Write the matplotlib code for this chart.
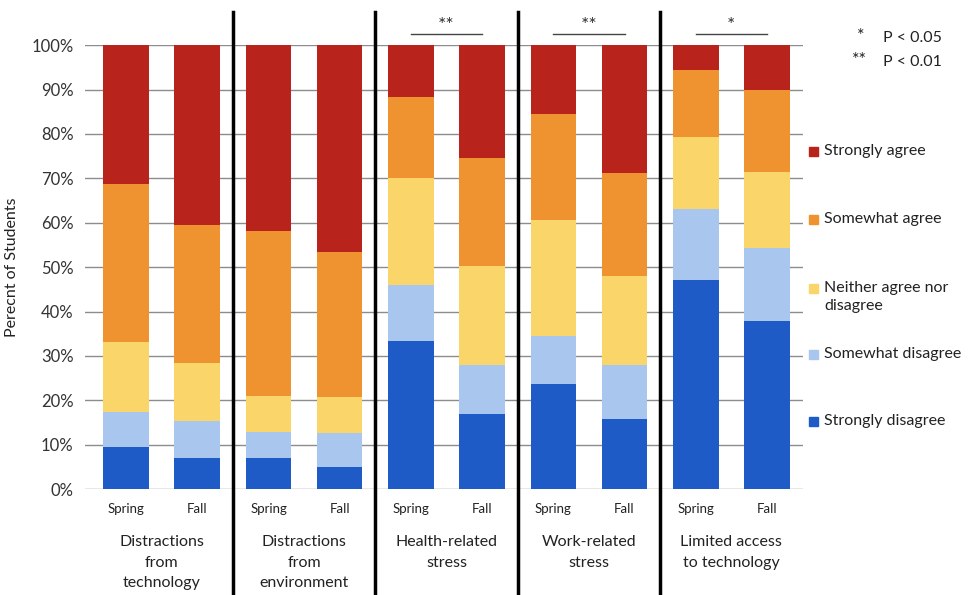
import matplotlib
matplotlib.use("Agg")
import matplotlib.pyplot as plt
from matplotlib.patches import Rectangle
import numpy as np

plt.rcParams["font.family"] = ["Lato", "DejaVu Sans"]

groups = ["Distractions\nfrom\ntechnology", "Distractions\nfrom\nenvironment",
          "Health-related\nstress", "Work-related\nstress", "Limited access\nto technology"]
terms = ["Spring", "Fall"]
responses = ["Strongly disagree", "Somewhat disagree", "Neither agree nor\ndisagree",
             "Somewhat agree", "Strongly agree"]
colors = ["#1F5BC6", "#A9C6EE", "#F9D56A", "#EF9331", "#B8231B"]

# percent of students per response, bars in order Spring/Fall for each group
strongly_disagree = [9.5, 6.9, 7.1, 4.9, 33.3, 17.0, 23.7, 15.8, 47.1, 37.8]
somewhat_disagree = [7.9, 8.5, 5.8, 7.8, 12.6, 11.0, 10.9, 12.2, 15.9, 16.5]
neither = [15.8, 12.9, 8.1, 8.1, 24.2, 22.2, 26.1, 20.1, 16.3, 17.1]
somewhat_agree = [35.5, 31.2, 37.1, 32.7, 18.2, 24.4, 23.9, 23.0, 15.1, 18.4]
strongly_agree = [31.3, 40.5, 41.9, 46.5, 11.7, 25.4, 15.4, 28.9, 5.6, 10.2]

significance = ["", "", "**", "**", "*"]

series = [strongly_disagree, somewhat_disagree, neither, somewhat_agree, strongly_agree]
x = np.arange(len(groups) * len(terms))

fig = plt.figure(figsize=(9.74, 5.95), dpi=100)
ax = fig.add_axes([0.087, 0.178, 0.737, 0.746])

bottom = np.zeros(len(x))
for vals, col in zip(series, colors):
    ax.bar(x, vals, width=0.64, bottom=bottom, color=col, zorder=2)
    bottom += np.array(vals)

ax.set_xlim(-0.58, 9.5)
ax.set_ylim(0, 100)
ax.set_yticks(np.arange(0, 101, 10))
ax.set_yticklabels([f"{v}%" for v in range(0, 101, 10)], fontsize=12, color="#333333")
ax.yaxis.grid(True, color="#8c8c8c", linewidth=1, zorder=0)
ax.set_axisbelow(True)
ax.tick_params(length=0, pad=8)
for s in ax.spines.values():
    s.set_visible(False)
ax.set_ylabel("Perecnt of Students", fontsize=11.5, color="#222222", labelpad=9)

ax.set_xticks(x)
ax.set_xticklabels(terms * len(groups), fontsize=9.5, color="#222222")
ax.tick_params(axis="x", pad=10)

for i, g in enumerate(groups):
    cx = 2 * i + 0.5
    ax.text(cx, -10.4, g, ha="center", va="top", fontsize=11.5, color="#222222",
            linespacing=1.6, clip_on=False)
    if significance[i]:
        ax.plot([2 * i, 2 * i + 1], [102.5, 102.5], color="#444444", lw=1, clip_on=False)
        ax.text(cx, 102.6, significance[i], ha="center", va="bottom", fontsize=14,
                color="#333333", clip_on=False)

# black separators between groups
for i in range(1, len(groups)):
    ax.plot([2 * i - 0.5] * 2, [-24, 107.5], color="black", lw=2.5, clip_on=False, zorder=5)

# legend, top entry first
leg_y = [151, 219, 288, 354, 421]
for lab, col, py in zip(responses[::-1], colors[::-1], leg_y):
    fy = 1 - py / 595
    fig.patches.append(Rectangle((809 / 974, fy - 4.5 / 595), 9 / 974, 9 / 595,
                                 transform=fig.transFigure, color=col))
    fig.text(824 / 974, fy + 7 / 595, lab, ha="left", va="top", fontsize=11.5,
             color="#222222", linespacing=1.35)

fig.text(857 / 974, 1 - 36 / 595, "*", fontsize=13, va="center", color="#222222")
fig.text(883 / 974, 1 - 38 / 595, "P < 0.05", fontsize=11.5, va="center", color="#222222")
fig.text(852 / 974, 1 - 60 / 595, "**", fontsize=13, va="center", color="#222222")
fig.text(883 / 974, 1 - 62 / 595, "P < 0.01", fontsize=11.5, va="center", color="#222222")

fig.savefig("out.png", dpi=100)
